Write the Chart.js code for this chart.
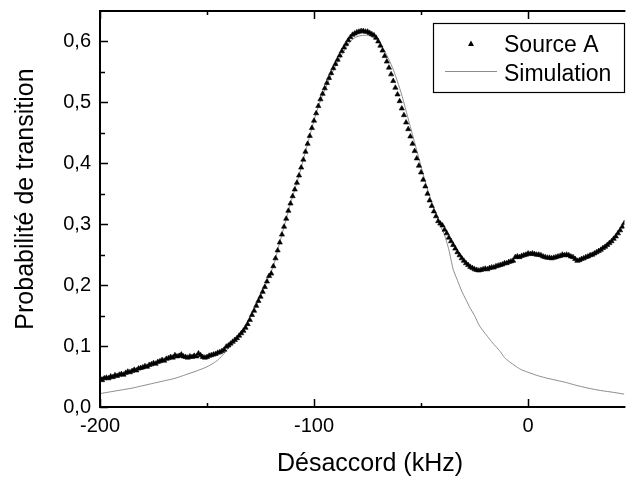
<!DOCTYPE html>
<html lang="fr">
<head>
<meta charset="UTF-8">
<title>Probabilité de transition</title>
<script src="https://cdn.jsdelivr.net/npm/chart.js"></script>
<style>
  html, body { margin: 0; padding: 0; background: #fff; }
</style>
</head>
<body>
<canvas id="chart" width="629" height="477"></canvas>
<script>
// detuning grid of the measurement (kHz)
const sourceX = [
  -200,-199,-198,-197,-196,-195,-194,-193,-192,-191,
  -190,-189,-188,-187,-186,-185,-184,-183,-182,-181,
  -180,-179,-178,-177,-176,-175,-174,-173,-172,-171,
  -170,-169,-168,-167,-166,-165,-164,-163,-162,-161,
  -160,-159,-158,-157,-156,-155,-154,-153,-152,-151,
  -150,-149,-148,-147,-146,-145,-144,-143,-142,-141,
  -140,-139,-138,-137,-136,-135,-134,-133,-132,-131,
  -130,-129,-128,-127,-126,-125,-124,-123,-122,-121,
  -120,-119,-118,-117,-116,-115,-114,-113,-112,-111,
  -110,-109,-108,-107,-106,-105,-104,-103,-102,-101,
  -100,-99,-98,-97,-96,-95,-94,-93,-92,-91,
  -90,-89,-88,-87,-86,-85,-84,-83,-82,-81,
  -80,-79,-78,-77,-76,-75,-74,-73,-72,-71,
  -70,-69,-68,-67,-66,-65,-64,-63,-62,-61,
  -60,-59,-58,-57,-56,-55,-54,-53,-52,-51,
  -50,-49,-48,-47,-46,-45,-44,-43,-42,-41,
  -40,-39,-38,-37,-36,-35,-34,-33,-32,-31,
  -30,-29,-28,-27,-26,-25,-24,-23,-22,-21,
  -20,-19,-18,-17,-16,-15,-14,-13,-12,-11,
  -10,-9,-8,-7,-6,-5,-4,-3,-2,-1,
  0,1,2,3,4,5,6,7,8,9,
  10,11,12,13,14,15,16,17,18,19,
  20,21,22,23,24,25,26,27,28,29,
  30,31,32,33,34,35,36,37,38,39,
  40,41,42,43,44,45
];
// Source A (measured transition probability)
const sourceY = [
  .046,.044,.047,.048,.047,.050,.049,.052,.051,.053,
  .054,.053,.056,.058,.057,.059,.061,.060,.063,.064,
  .065,.067,.066,.069,.070,.072,.071,.074,.075,.077,
  .076,.079,.080,.082,.081,.085,.083,.084,.086,.083,
  .082,.081,.083,.082,.084,.083,.088,.085,.082,.081,
  .082,.084,.085,.086,.087,.089,.090,.092,.094,.099,
  .101,.104,.107,.110,.113,.117,.121,.125,.130,.136,
  .143,.151,.158,.166,.174,.181,.189,.197,.206,.215,
  .219,.231,.244,.257,.270,.283,.296,.309,.322,.334,
  .346,.357,.368,.380,.393,.406,.419,.432,.445,.458,
  .470,.482,.494,.505,.514,.523,.532,.540,.548,.556,
  .563,.570,.577,.584,.590,.596,.602,.607,.611,.613,
  .615,.616,.617,.617,.616,.616,.614,.612,.610,.606,
  .600,.593,.585,.576,.567,.557,.546,.535,.524,.513,
  .502,.490,.479,.467,.456,.444,.432,.420,.408,.396,
  .385,.373,.362,.350,.339,.330,.321,.313,.305,.301,
  .298,.291,.285,.278,.272,.266,.260,.254,.249,.244,
  .240,.236,.233,.230,.228,.226,.225,.224,.225,.226,
  .227,.226,.228,.229,.229,.231,.232,.233,.234,.236,
  .236,.238,.239,.240,.246,.247,.246,.248,.249,.250,
  .252,.251,.252,.251,.250,.250,.249,.247,.246,.245,
  .245,.244,.245,.246,.247,.248,.250,.249,.250,.249,
  .247,.246,.243,.240,.241,.243,.244,.246,.247,.249,
  .250,.252,.254,.256,.258,.261,.263,.266,.269,.272,
  .276,.280,.285,.290,.296,.302
];
// Simulation
const simX = [
  -200,-195,-190,-185,-180,-175,-170,-165,-160,-155,-150,-147,-145,-143,-141,
  -139,-137,-135,-133,-131,-129,-127,-125,-123,-121,-119,-117,-115,-113,-111,
  -109,-107,-105,-103,-101,-99,-97,-95,-93,-91,-89,-87,-85,-83,-81,
  -79,-77,-75,-73,-71,-69,-67,-65,-63,-61,-59,-57,-55,-53,-51,
  -49,-47,-45,-43,-41,-39,-37,-35,-33,-31,-29,-27,-25,-23,-21,
  -19,-17,-15,-13,-11,-9,-7,-5,-3,0,4,8,13,18,22,28,34,40,45
];
const simY = [
  .022,.025,.028,.031,.035,.039,.043,.047,.053,.059,.066,.072,.077,.084,.092,
  .101,.111,.118,.129,.141,.153,.166,.181,.197,.215,.231,.257,.283,.309,.334,
  .357,.380,.406,.432,.458,.482,.503,.520,.537,.552,.566,.578,.590,.600,.606,
  .609,.610,.610,.608,.603,.596,.584,.570,.554,.534,.512,.486,.460,.434,.408,
  .382,.358,.336,.316,.298,.282,.258,.226,.208,.190,.176,.162,.150,.135,.125,
  .116,.107,.099,.091,.081,.075,.070,.065,.061,.057,.052,.048,.044,.040,.036,.031,.027,.024,.021
];
const xTicks = [-200, -100, 0];
const xMinor = [-150, -50];
const yTicks = [0, 0.1, 0.2, 0.3, 0.4, 0.5, 0.6];
const yMinor = [0.05, 0.15, 0.25, 0.35, 0.45, 0.55];
const xTitle = 'Désaccord (kHz)';
const yTitle = 'Probabilité de transition';

const FONT = '"Liberation Sans", Arial, Helvetica, sans-serif';

// axis frame with inward ticks + axis titles
const frame = {
  id: 'frame',
  afterDatasetsDraw(chart) {
    const { ctx, chartArea: a, scales: { x, y } } = chart;
    ctx.save();
    ctx.strokeStyle = '#000';
    ctx.lineWidth = 2;
    ctx.beginPath();
    ctx.moveTo(a.right + 1, a.top); ctx.lineTo(a.left, a.top);
    ctx.lineTo(a.left, a.bottom); ctx.lineTo(a.right + 1, a.bottom);
    ctx.stroke();
    ctx.lineWidth = 1.5;
    ctx.beginPath();
    const tx = (v, len) => {
      const px = Math.round(x.getPixelForValue(v)) + 0.5;
      ctx.moveTo(px, a.bottom); ctx.lineTo(px, a.bottom - len);
      ctx.moveTo(px, a.top); ctx.lineTo(px, a.top + len);
    };
    const ty = (v, len) => {
      const py = Math.round(y.getPixelForValue(v)) + 0.5;
      ctx.moveTo(a.left, py); ctx.lineTo(a.left + len, py);
    };
    xTicks.forEach(v => tx(v, 8));
    xMinor.forEach(v => tx(v, 4));
    yTicks.forEach(v => ty(v, 8));
    yMinor.forEach(v => ty(v, 5));
    ctx.stroke();

    ctx.fillStyle = '#000';
    ctx.font = '25px ' + FONT;
    ctx.textAlign = 'center';
    ctx.textBaseline = 'alphabetic';
    ctx.fillText(xTitle, 370, 470.5);
    ctx.translate(33, 199);
    ctx.rotate(-Math.PI / 2);
    ctx.fillText(yTitle, 0, 0);
    ctx.restore();
  }
};

// boxed legend inside the plot
const boxLegend = {
  id: 'boxLegend',
  afterDraw(chart) {
    const { ctx } = chart;
    const ds = chart.data.datasets;
    const bx = 433.5, by = 23.5, bw = 191, bh = 69;
    ctx.save();
    ctx.fillStyle = '#fff';
    ctx.fillRect(bx, by, bw, bh);
    ctx.strokeStyle = '#000';
    ctx.lineWidth = 1.2;
    ctx.strokeRect(bx, by, bw, bh);
    // Source A marker
    ctx.fillStyle = '#000';
    ctx.beginPath();
    ctx.moveTo(471, 40.5); ctx.lineTo(474, 46); ctx.lineTo(468, 46);
    ctx.closePath(); ctx.fill();
    // Simulation line
    ctx.strokeStyle = ds[1].borderColor;
    ctx.lineWidth = 1;
    ctx.beginPath();
    ctx.moveTo(445, 71.5); ctx.lineTo(497, 71.5);
    ctx.stroke();
    ctx.fillStyle = '#000';
    ctx.font = '23px ' + FONT;
    ctx.textBaseline = 'alphabetic';
    ctx.textAlign = 'left';
    ctx.fillText(ds[0].label, 504, 52);
    ctx.fillText(ds[1].label, 504, 81);
    ctx.restore();
  }
};

new Chart(document.getElementById('chart'), {
  type: 'scatter',
  data: {
    datasets: [{
      label: 'Source A',
      data: sourceX.map((v, i) => ({ x: v, y: sourceY[i] })),
      showLine: false,
      pointStyle: 'triangle',
      pointRadius: 3,
      pointBackgroundColor: '#000',
      pointBorderColor: '#000',
      pointBorderWidth: 0.6,
      order: 1
    }, {
      label: 'Simulation',
      data: simX.map((v, i) => ({ x: v, y: simY[i] })),
      showLine: true,
      borderColor: '#8c8c8c',
      borderWidth: 1,
      pointRadius: 0,
      tension: 0.2,
      order: 2
    }]
  },
  options: {
    responsive: false,
    animation: false,
    layout: { padding: { top: 11, right: 0, left: 0, bottom: 0 } },
    plugins: {
      legend: { display: false },
      tooltip: { enabled: false }
    },
    scales: {
      x: {
        type: 'linear',
        min: -200,
        max: 45,
        afterBuildTicks: s => { s.ticks = xTicks.map(v => ({ value: v })); },
        afterFit: s => { s.height = 70; s.paddingLeft = 0; s.paddingRight = 0; },
        grid: { display: false, drawTicks: false },
        border: { display: false },
        ticks: {
          color: '#000',
          padding: 7,
          maxRotation: 0,
          font: { size: 20, family: FONT },
          callback: v => String(v)
        }
      },
      y: {
        min: 0,
        max: 0.65,
        afterBuildTicks: s => { s.ticks = yTicks.map(v => ({ value: v })); },
        afterFit: s => { s.width = 100; s.paddingTop = 0; s.paddingBottom = 0; },
        grid: { display: false, drawTicks: false },
        border: { display: false },
        ticks: {
          color: '#000',
          padding: 9,
          font: { size: 20, family: FONT },
          callback: v => v.toFixed(1).replace('.', ',')
        }
      }
    }
  },
  plugins: [frame, boxLegend]
});
</script>
</body>
</html>
